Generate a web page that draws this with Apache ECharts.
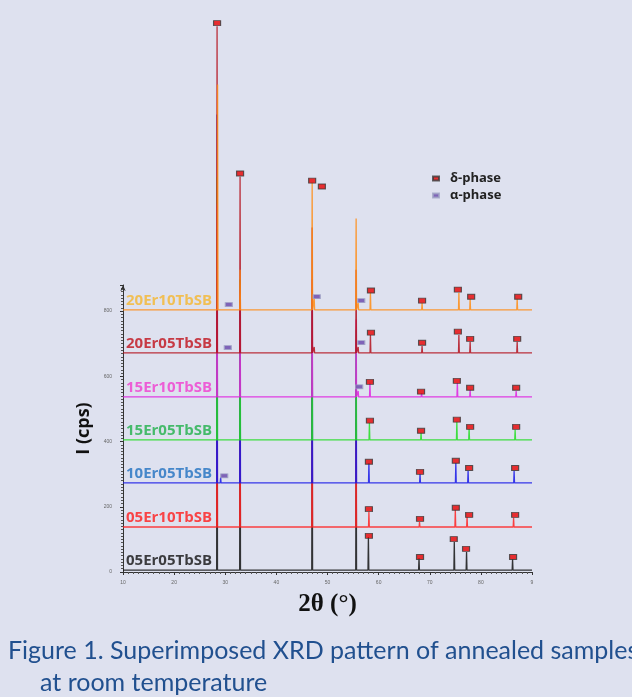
<!DOCTYPE html>
<html>
<head>
<meta charset="utf-8">
<script src="https://cdn.jsdelivr.net/npm/echarts@6/dist/echarts.min.js"></script>
<style>
html,body{margin:0;padding:0;background:#dee1ef;}
#c{width:632px;height:697px;}
</style>
</head>
<body>
<div id="c"></div>
<script>
// ---- data ----
const sampleNames = ['05Er05TbSB','05Er10TbSB','10Er05TbSB','15Er05TbSB','15Er10TbSB','20Er05TbSB','20Er10TbSB'];
const baselines = [6, 138, 273, 405, 537, 672, 804];

// peaks: [2θ, intensity at peak top] (cps)
const peaks05Er05 = [[28.4,1050],[32.9,835],[47.0,590],[55.6,467],[58.0,107],[67.9,43],[74.8,92],[77.2,61],[86.2,40]];
const peaks05Er10 = [[28.4,990],[32.9,680],[47.0,712],[55.6,590],[58.1,184],[68.0,153],[75.0,190],[77.3,169],[86.4,166]];
const peaks10Er05 = [[28.4,1403],[29.1,290],[32.9,835],[47.0,835],[55.6,712],[58.1,334],[68.1,301],[75.1,334],[77.5,310],[86.5,310]];
const peaks15Er05 = [[28.4,1210],[32.9,897],[47.0,866],[55.6,743],[58.2,457],[68.3,426],[75.3,460],[77.7,439],[86.7,436]];
const peaks15Er10 = [[28.4,1127],[32.9,866],[47.0,897],[55.6,774],[56.0,555],[58.3,580],[68.4,549],[75.4,580],[77.9,558],[86.9,555]];
const peaks20Er05 = [[28.4,1673],[32.9,1213],[47.0,1056],[47.4,690],[55.6,927],[56.0,690],[58.4,727],[68.5,693],[75.7,727],[77.9,706],[87.1,706]];
const peaks20Er10 = [[28.5,1495],[32.9,927],[47.0,1194],[47.4,838],[55.6,1084],[56.0,825],[58.4,856],[68.5,825],[75.7,856],[77.9,838],[87.1,838]];

// phase markers: [2θ, intensity]
const deltaMarkers = [
  [28.4,1683],[32.9,1222],[47.0,1200],[48.9,1182],
  [58.5,863],[68.5,832],[75.5,866],[78.1,844],[87.3,844],
  [58.5,734],[68.5,703],[75.5,737],[77.9,715],[87.1,715],
  [58.3,583],[68.3,553],[75.3,586],[77.9,565],[86.9,565],
  [58.3,464],[68.3,433],[75.3,467],[77.9,445],[86.9,445],
  [58.1,338],[68.1,307],[75.1,341],[77.7,319],[86.7,319],
  [58.1,193],[68.1,163],[75.1,197],[77.7,175],[86.7,175],
  [58.1,111],[68.1,46],[74.7,101],[77.1,71],[86.3,46]
];
const alphaMarkers = [[30.7,820],[47.9,844],[56.6,832],[30.5,688],[56.6,703],[56.2,568],[29.8,295]];

const xTickLabels = {10:'10',20:'20',30:'30',40:'40',50:'50',60:'60',70:'70',80:'80',90:'9'};
const yTickLabels = {0:'0',200:'200',400:'400',600:'600',800:'800'};

// ---- styles ----
const lineColors  = ['#141414','#ff2222','#1818e8','#22dd22','#e020e0','#b4101c','#ff8c14'];
const labelColors = ['#111111','#ff1c1c','#1f70c0','#1fb04a','#f03cd0','#c0101a','#f5b62e'];
const peakHalfWidth = 0.08;
const labelOffset = 29;

const allPeaks = [peaks05Er05, peaks05Er10, peaks10Er05, peaks15Er05, peaks15Er10, peaks20Er05, peaks20Er10];

function buildPattern(base, peaks) {
  const pts = [[10, base]];
  peaks.forEach(p => {
    pts.push([p[0]-peakHalfWidth, base]);
    pts.push([p[0], p[1]]);
    pts.push([p[0]+peakHalfWidth, base]);
  });
  pts.push([90, base]);
  return pts;
}

const series = sampleNames.map((n, i) => ({
  name: n,
  type: 'line',
  data: buildPattern(baselines[i], allPeaks[i]),
  showSymbol: false,
  clip: false,
  silent: true,
  animation: false,
  lineStyle: {color: lineColors[i], width: 1.3, opacity: 0.85},
  z: 2 + i
}));

series.push({
  name: 'labels',
  type: 'scatter',
  symbolSize: 0,
  clip: false,
  silent: true,
  animation: false,
  data: sampleNames.map((n, i) => ({
    value: [10, baselines[i] + labelOffset],
    name: n,
    label: {color: labelColors[i]}
  })),
  label: {
    show: true, position: 'right', distance: 3,
    formatter: p => p.name,
    fontFamily: 'Open Sans', fontWeight: 'bold', fontSize: 15
  },
  z: 20
});

series.push({
  name: 'δ-phase',
  type: 'scatter',
  symbol: 'rect',
  symbolSize: [7, 5],
  clip: false,
  animation: false,
  data: deltaMarkers,
  itemStyle: {color: '#e80000', borderColor: '#3a3a3a', borderWidth: 1},
  z: 30
});
series.push({
  name: 'α-phase',
  type: 'scatter',
  symbol: 'rect',
  symbolSize: [7, 4],
  clip: false,
  animation: false,
  data: alphaMarkers,
  itemStyle: {color: '#6644aa', borderColor: '#9fa3c4', borderWidth: 1},
  z: 30
});

const chart = echarts.init(document.getElementById('c'), null, {renderer: 'canvas'});
chart.setOption({
  backgroundColor: '#dee1ef',
  animation: false,
  grid: {left: 123, right: 100, top: 285, bottom: 125, containLabel: false},
  legend: {
    data: ['δ-phase', 'α-phase'],
    orient: 'vertical',
    left: 427, top: 167,
    icon: 'rect',
    itemWidth: 6, itemHeight: 4,
    itemGap: 4,
    selectedMode: false,
    textStyle: {fontFamily: 'Open Sans', fontWeight: 'bold', fontSize: 13, color: '#222', padding: [0,0,0,6]}
  },
  xAxis: {
    type: 'value', min: 10, max: 90, interval: 10,
    name: '2θ (°)', nameLocation: 'middle', nameGap: 20,
    nameTextStyle: {fontFamily: 'Liberation Serif', fontWeight: 'bold', fontSize: 25, color: '#111'},
    axisLine: {show: true, lineStyle: {color: '#333', width: 1}},
    axisTick: {show: true, length: 3, lineStyle: {color: '#333'}},
    minorTick: {show: true, splitNumber: 10, length: 2, lineStyle: {color: '#555'}},
    axisLabel: {fontSize: 5, color: '#666', margin: 8, formatter: v => xTickLabels[v] || ''},
    splitLine: {show: false}
  },
  yAxis: {
    type: 'value', min: 0, max: 880, interval: 200,
    name: 'I (cps)', nameLocation: 'middle', nameGap: 28,
    nameTextStyle: {fontFamily: 'Open Sans', fontWeight: 'bold', fontSize: 18, color: '#111'},
    axisLine: {show: true, symbol: ['none', 'arrow'], symbolSize: [4, 6], lineStyle: {color: '#333', width: 1}},
    axisTick: {show: true, length: 3, lineStyle: {color: '#333'}},
    minorTick: {show: true, splitNumber: 20, length: 2, lineStyle: {color: '#555'}},
    axisLabel: {fontSize: 5, color: '#666', margin: 11, showMaxLabel: false, formatter: v => yTickLabels[v] || ''},
    splitLine: {show: false}
  },
  graphic: [
    {type: 'text', left: 8, top: 638, silent: true,
     style: {text: 'Figure 1. Superimposed XRD pattern of annealed samples', font: '25px Lato', fill: '#21508f'}},
    {type: 'text', left: 40, top: 670, silent: true,
     style: {text: 'at room temperature', font: '25px Lato', fill: '#21508f'}}
  ],
  series: series
});
</script>
</body>
</html>
